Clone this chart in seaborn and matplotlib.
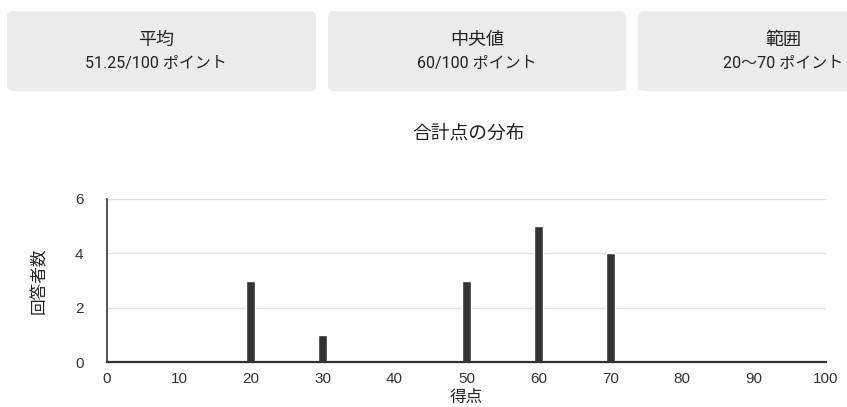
import matplotlib
matplotlib.use("Agg")
import matplotlib.pyplot as plt
from matplotlib.patches import FancyBboxPatch
import seaborn as sns
import pandas as pd

# Score distribution
scores = [20, 30, 50, 60, 70]
counts = [3, 1, 3, 5, 4]

# Summary cards
card_titles = ["平均", "中央値", "範囲"]
card_values = ["51.25/100 ポイント", "60/100 ポイント", "20〜70 ポイント"]

title = "合計点の分布"
xlabel = "得点"
ylabel = "回答者数"
xticks = [0, 10, 20, 30, 40, 50, 60, 70, 80, 90, 100]
yticks = [0, 2, 4, 6]

sns.set_theme(style="white")
plt.rcParams["font.family"] = ["Liberation Sans", "Noto Sans CJK JP", "DejaVu Sans"]

W, H = 847, 407
fig = plt.figure(figsize=(W / 100, H / 100), dpi=100)

# Background layer in pixel units for the summary cards
bg = fig.add_axes([0, 0, 1, 1], zorder=0)
bg.set_xlim(0, W)
bg.set_ylim(H, 0)
bg.axis("off")

card_boxes = [(7, 316), (328, 626), (638, 930)]
text_x = [156, 477, 783]
for (x0, x1), tx, t, v in zip(card_boxes, text_x, card_titles, card_values):
    bg.add_patch(FancyBboxPatch((x0, 11), x1 - x0, 80,
                                boxstyle="round,pad=0,rounding_size=6",
                                facecolor="#ebebeb", edgecolor="none"))
    bg.text(tx, 40, t, ha="center", va="center", fontsize=13, color="#222222",
            family=["Noto Sans CJK JP", "DejaVu Sans"])
    bg.text(tx, 63, v, ha="center", va="center", fontsize=11.5, color="#222222",
            family=["Roboto", "Noto Sans CJK JP", "DejaVu Sans"])

# Chart area
left, right, bottom, top = 107, 826, 362, 199
ax = fig.add_axes([left / W, (H - bottom) / H, (right - left) / W, (bottom - top) / H], zorder=1)
ax.patch.set_alpha(0)

df = pd.DataFrame({"score": scores, "count": counts})
sns.barplot(data=df, x="score", y="count", native_scale=True, width=0.12,
            color="#333333", saturation=1, ax=ax, zorder=3)

ax.set_xlim(0, 100)
ax.set_ylim(0, 6)
ax.set_xticks(xticks)
ax.set_yticks(yticks)
ax.tick_params(axis="x", length=0, labelsize=11, colors="#333333", pad=7)
ax.tick_params(axis="y", length=0, labelsize=11, colors="#333333", pad=17)
for yv in yticks[1:]:
    ax.axhline(yv, color="#e0e0e0", lw=1, zorder=1)

for s in ["top", "right"]:
    ax.spines[s].set_visible(False)
ax.spines["left"].set_color("#333333")
ax.spines["bottom"].set_color("#333333")
ax.spines["left"].set_linewidth(1.2)
ax.spines["bottom"].set_linewidth(1.6)
ax.spines["bottom"].set_zorder(4)

ax.set_xlabel("")
ax.set_ylabel("")
fig.text(466 / W, 1 - 397 / H, xlabel, ha="center", va="center", fontsize=12,
         color="#222222", family=["Noto Sans CJK JP", "DejaVu Sans"])
fig.text(40 / W, 1 - 281 / H, ylabel, ha="center", va="center", rotation=90,
         fontsize=12, color="#222222", family=["Noto Sans CJK JP", "DejaVu Sans"])
fig.text(469 / W, 1 - 133 / H, title, ha="center", va="center", fontsize=13.5,
         color="#222222", family=["Noto Sans CJK JP", "DejaVu Sans"])

fig.savefig("out.png", dpi=100)
